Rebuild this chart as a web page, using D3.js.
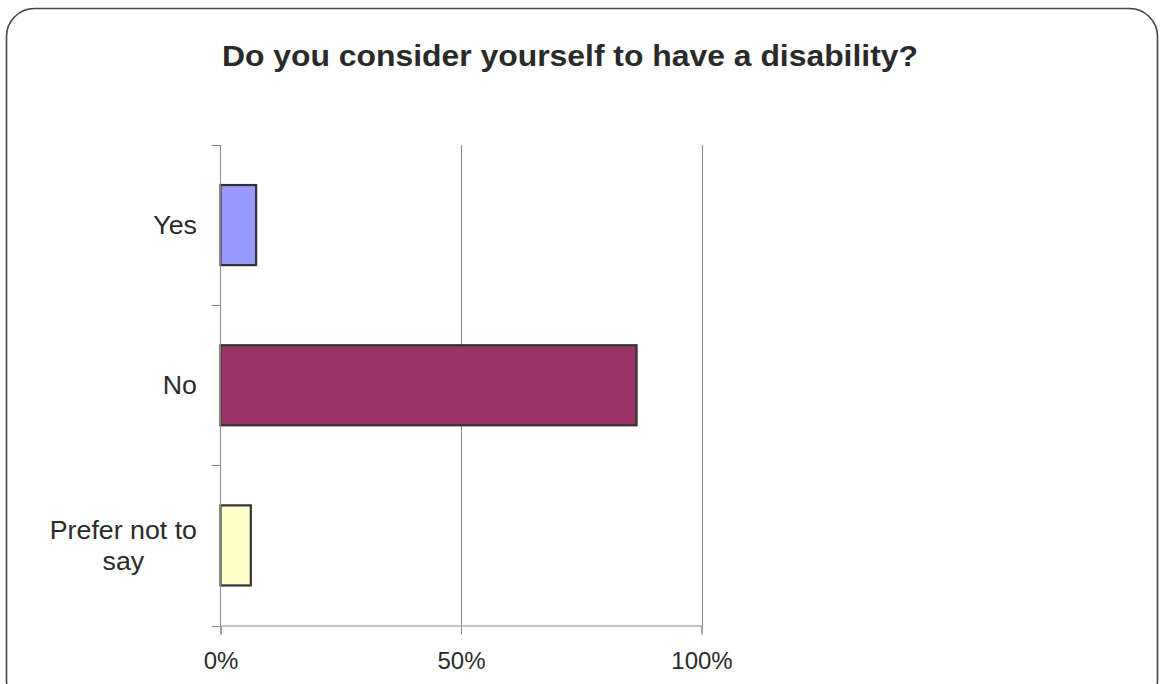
<!DOCTYPE html>
<html>
<head>
<meta charset="utf-8">
<script src="https://cdn.jsdelivr.net/npm/d3@7"></script>
<style>
  html, body { margin: 0; padding: 0; background: #ffffff; }
  svg { display: block; }
  text { font-family: "Liberation Sans", Arial, sans-serif; fill: #2a2a2a; }
</style>
</head>
<body>
<svg id="chart" width="1160" height="684"></svg>
<script>
// Survey answers and their shares (percent of respondents)
const categories = ["Yes", "No", "Prefer not to say"];
const values = [7.4, 86.5, 6.3];
const colors = ["#9999FF", "#993366", "#FFFFCC"];
const tickValues = [0, 50, 100];
const tickLabels = ["0%", "50%", "100%"];
const title = "Do you consider yourself to have a disability?";

const svg = d3.select("#chart");

// Rounded outer frame
svg.append("rect")
  .attr("x", 6.5).attr("y", 8.5)
  .attr("width", 1151).attr("height", 700)
  .attr("rx", 28).attr("ry", 28)
  .attr("fill", "#fff")
  .attr("stroke", "#444").attr("stroke-width", 1.6);

svg.append("text")
  .attr("x", 570).attr("y", 66)
  .attr("text-anchor", "middle")
  .attr("textLength", 696).attr("lengthAdjust", "spacingAndGlyphs")
  .style("font-size", "29px").style("font-weight", "bold")
  .text(title);

const plot = { left: 220.5, right: 701.5, top: 145, bottom: 625.5 };

const x = d3.scaleLinear().domain([0, 100]).range([plot.left, plot.right]);
const y = d3.scaleBand().domain(categories).range([plot.top, plot.bottom])
  .paddingInner(0.5).paddingOuter(0.25);

const g = svg.append("g");

// Vertical gridlines
g.selectAll("line.grid")
  .data(tickValues.filter(v => v > 0))
  .join("line")
  .attr("class", "grid")
  .attr("x1", d => Math.round(x(d)) + 0.5).attr("x2", d => Math.round(x(d)) + 0.5)
  .attr("y1", plot.top).attr("y2", plot.bottom)
  .attr("stroke", "#888").attr("stroke-width", 1);

// Bars
g.selectAll("rect.bar")
  .data(categories)
  .join("rect")
  .attr("class", "bar")
  .attr("x", x(0))
  .attr("y", d => y(d))
  .attr("width", (d, i) => x(values[i]) - x(0))
  .attr("height", y.bandwidth())
  .attr("fill", (d, i) => colors[i])
  .attr("stroke", "#333").attr("stroke-width", 2.2);

// Category axis (left) with ticks between categories
const yAxisLine = svg.append("g").attr("stroke", "#888").attr("stroke-width", 1);
yAxisLine.append("line")
  .attr("x1", plot.left).attr("x2", plot.left)
  .attr("y1", plot.top).attr("y2", plot.bottom);
const step = (plot.bottom - plot.top) / categories.length;
yAxisLine.selectAll("line.t")
  .data(d3.range(categories.length + 1))
  .join("line")
  .attr("class", "t")
  .attr("x1", plot.left - 9).attr("x2", plot.left)
  .attr("y1", d => Math.round(plot.top + d * step) + 0.5)
  .attr("y2", d => Math.round(plot.top + d * step) + 0.5);

// Category labels: wrapped lines are centred within a right-aligned block,
// glyphs slightly widened
const labelLines = { "Prefer not to say": ["Prefer not to", "say"] };
const labelRight = 197;
const widen = 1.07;
categories.forEach(c => {
  const lines = labelLines[c] || [c];
  const cy = y(c) + y.bandwidth() / 2;
  const lh = 31;
  const t = svg.append("text")
    .attr("text-anchor", "middle")
    .style("font-size", "25px");
  const spans = lines.map((ln, i) => t.append("tspan")
    .attr("y", cy + 9 + (i - (lines.length - 1) / 2) * lh)
    .text(ln));
  const widths = spans.map(s => s.node().getComputedTextLength() * widen);
  const blockW = d3.max(widths);
  spans.forEach((s, i) => s
    .attr("x", labelRight - blockW / 2)
    .attr("textLength", widths[i])
    .attr("lengthAdjust", "spacingAndGlyphs"));
});

// Value axis (bottom)
const xAxis = svg.append("g")
  .attr("transform", `translate(0,${plot.bottom})`)
  .call(d3.axisBottom(x).tickValues(tickValues).tickFormat((d, i) => tickLabels[i])
    .tickSize(9).tickPadding(17));
xAxis.select(".domain").attr("stroke", "#888");
xAxis.selectAll(".tick line").attr("stroke", "#888");
xAxis.selectAll(".tick text")
  .style("font-size", "24px")
  .style("font-family", "'Liberation Sans', Arial, sans-serif")
  .attr("fill", "#2a2a2a");
</script>
</body>
</html>
